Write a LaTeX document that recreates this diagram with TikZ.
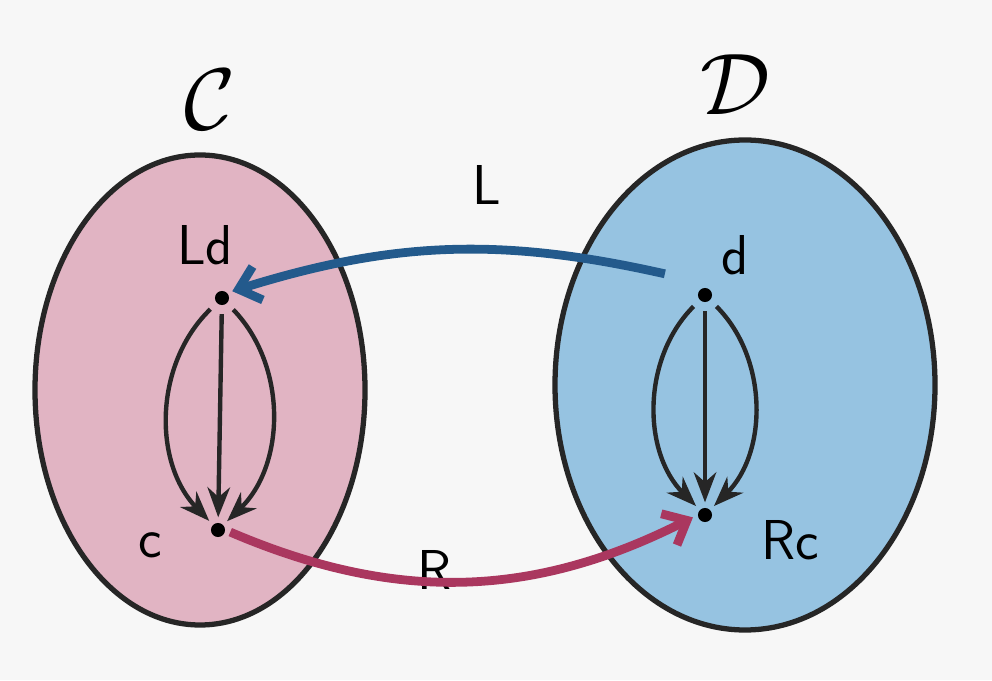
\documentclass[tikz,border=0pt]{standalone}
\usetikzlibrary{arrows.meta}
\definecolor{wash blue}{RGB}{150,195,225}
\definecolor{wash pink}{RGB}{225,180,195}
\definecolor{ink blue}{RGB}{35,90,140}
\definecolor{ink pink}{RGB}{170,55,95}
\begin{document}
\begin{tikzpicture}
  [auto,
  cat/.style={draw=black!85, line width=3pt},
  obj/.style={circle, fill=black, inner sep=0pt, minimum size=8pt},
  lbl/.style={font=\fontsize{32}{36}\selectfont\sffamily},
  mor/.style={draw=black!85, line width=2.5pt, -{Stealth[length=6mm,width=4.5mm]}, shorten >=3pt, shorten <=5pt},
  functor/.style={line width=5pt, -{Straight Barb[length=4mm,width=7mm]}, shorten >=3pt, shorten <=3pt}]

  \useasboundingbox[fill=gray!6] (0,0) rectangle (19.84,13.6);

  \draw[cat, fill=wash pink] (4.0,5.8) ellipse [x radius=3.3, y radius=4.7];
  \draw[cat, fill=wash blue] (14.9,5.9) ellipse [x radius=3.8, y radius=4.9];

  \node[lbl, scale=2] (catC) at (4.2,11.6) {$\mathcal{C}$};
  \node[lbl, scale=2] (catD) at (14.7,11.9) {$\mathcal{D}$};

  \node[obj] (Ld) at (4.44,7.64) {};
  \node[obj] (c) at (4.36,3.0) {};
  \node[obj] (d) at (14.1,7.7) {};
  \node[obj] (Rc) at (14.1,3.3) {};

  \node[lbl] (LdText) at (4.1,8.7) {Ld};
  \node[lbl] (cText) at (3.0,2.7) {c};
  \node[lbl] (dText) at (14.7,8.5) {d};
  \node[lbl] (RcText) at (15.8,2.8) {Rc};
  \node[lbl] (LText) at (9.74,9.9) {L};
  \node[lbl] (RText) at (8.7,2.2) {R};

  \begin{scope}[every path/.style=mor]
    \path (Ld) to[bend right=45] (c);
    \path (Ld) -- (c);
    \path (Ld) to[bend left=45] (c);
    \path (d) to[bend right=45] (Rc);
    \path (d) -- (Rc);
    \path (d) to[bend left=45] (Rc);
  \end{scope}

  \draw[functor, draw=ink blue] (13.4,8.1) to[bend right=15] (Ld.north east);
  \draw[functor, draw=ink pink] (c.east) to[bend right=25] (Rc.west);
\end{tikzpicture}
\end{document}
